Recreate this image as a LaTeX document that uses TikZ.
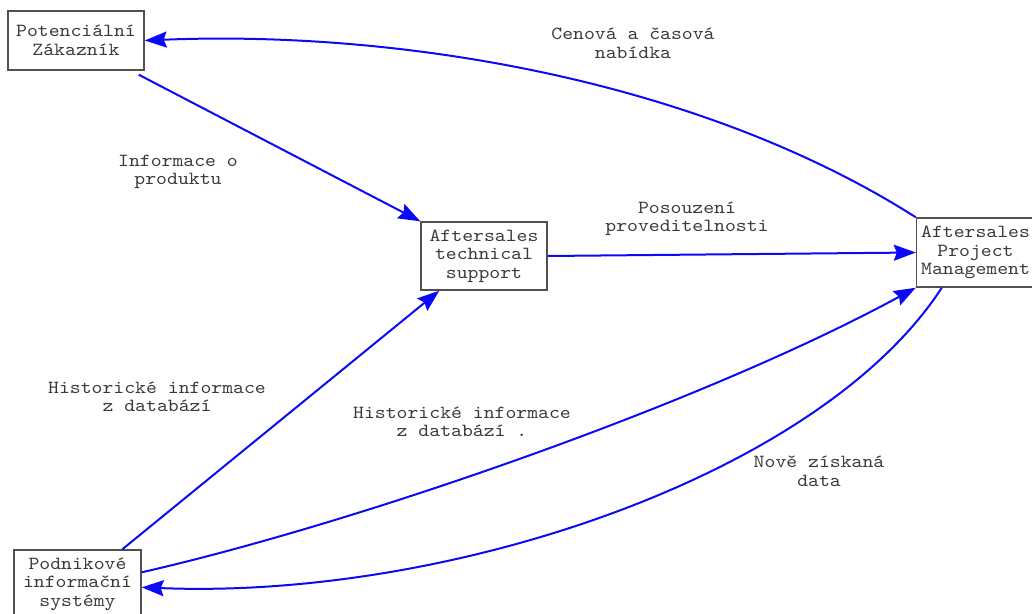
\documentclass[tikz,border=0pt]{standalone}
\usepackage{fontspec}
\setmonofont{lmmono10-regular.otf}[FakeStretch=1.12]
\usetikzlibrary{arrows.meta,calc}
\definecolor{txt}{HTML}{3A3A3A}
\definecolor{frame}{HTML}{505050}
\definecolor{flow}{HTML}{0A0AF5}
% typewriter face used for every label
\newcommand{\labelfont}{\ttfamily\fontsize{18.5}{18.5}\selectfont}
\tikzset{
  unit/.style={draw=frame, line width=1.4pt, fill=white, align=center,
    inner sep=0pt, font=\labelfont, text=txt},
  note/.style={align=center, inner sep=0pt, font=\labelfont, text=txt},
  flowline/.style={draw=flow, line width=2pt,
    -{Stealth[length=22pt,width=16pt,inset=3pt]}},
}
\begin{document}
\begin{tikzpicture}[x=1pt,y=-1pt]
\useasboundingbox (0,0) rectangle (1032,613);
\clip (0,0) rectangle (1032,613);

% organisational units
\node[unit, minimum width=136pt, minimum height=59pt] (zak) at (76,40.5)
  {Potenciální\\Zákazník};
\node[unit, minimum width=126pt, minimum height=68pt] (tech) at (484,256)
  {Aftersales\\technical\\support};
\node[unit, minimum width=118pt, minimum height=69pt] (pm) at (975.5,252.5)
  {Aftersales\\Project\\Management};
\node[unit, minimum width=127pt, minimum height=68pt] (pod) at (77.5,584)
  {Podnikové\\informační\\systémy};

% attachment points of the flows
\coordinate (zakout) at ($(zak.south east)+(-6,4)$);
\coordinate (zakin)  at (zak.east);
\coordinate (podtop) at ($(pod.north west)+(109,0)$);
\coordinate (podout) at ($(pod.north east)+(0,23)$);
\coordinate (podin)  at ($(pod.north east)+(0,38)$);
\coordinate (techin) at ($(tech.south west)+(19,0)$);
\coordinate (pmout)  at ($(pm.south west)+(26,0)$);

% information flows
\draw[flowline] (pm.north west) .. controls (700,80) and (400,30) .. (zakin);
\draw[flowline] (zakout) -- (tech.north west);
\draw[flowline] (tech.east) -- (pm.west);
\draw[flowline] (podtop) -- (techin);
\draw[flowline] (podout) .. controls (350,525) and (700,405) .. (pm.south west);
\draw[flowline] (pmout) .. controls (820,475) and (450,600) .. (podin);

% flow labels
\node[note] (l1) at (633,43)  {Cenová a časová\\nabídka};
\node[note] (l2) at (178,172) {Informace o\\produktu};
\node[note] (l3) at (687,219) {Posouzení\\proveditelnosti};
\node[note] (l4) at (157,397) {Historické informace\\z databází};
\node[note] (l5) at (462,422) {Historické informace\\z databází .};
\node[note] (l6) at (819,471) {Nově získaná\\data};
\end{tikzpicture}
\end{document}
